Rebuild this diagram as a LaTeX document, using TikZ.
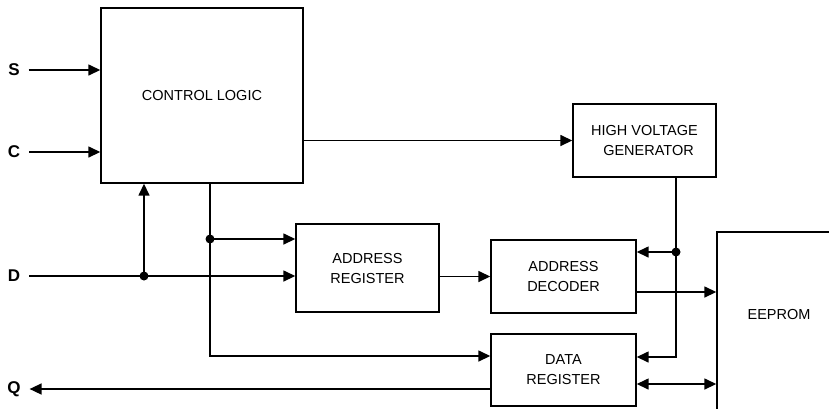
\documentclass[tikz,border=0pt]{standalone}
\usepackage{fontspec}
\setmainfont{Liberation Sans}
\usetikzlibrary{arrows.meta}

\tikzset{
  blk/.style={draw, line width=1.4pt, inner sep=0pt, align=center,
    font=\fontsize{14.5}{20}\selectfont},
  lbl/.style={font=\bfseries\fontsize{17}{17}\selectfont, inner sep=0pt, outer xsep=9pt},
  arr/.style={-{Triangle[length=12pt,width=11pt]}},
  arrs/.style={{Triangle[length=12pt,width=11pt]}-{Triangle[length=12pt,width=11pt]}}
}

\begin{document}
\begin{tikzpicture}[x=1pt, y=-1pt, line width=1.5pt]
  \useasboundingbox (0,0) rectangle (829,408);

  \node [blk, minimum width=202pt, minimum height=175pt] (ctrl) at (202,95.5) {CONTROL LOGIC};
  \node [blk, minimum width=143pt, minimum height=73pt] (hvg) at (644.5,140.5) {HIGH VOLTAGE\\ \ \ GENERATOR};
  \node [blk, minimum width=143pt, minimum height=88pt] (addrreg) at (367.5,268) {ADDRESS\\REGISTER};
  \node [blk, minimum width=145pt, minimum height=73pt] (addrdec) at (563.5,276.5) {ADDRESS\\DECODER};
  \node [blk, minimum width=145pt, minimum height=72pt] (datareg) at (563.5,370) {DATA\\REGISTER};
  \node [blk, minimum width=124pt, minimum height=188pt, label={[yshift=12pt, font=\fontsize{14.5}{20}\selectfont]center:EEPROM}] (eeprom) at (779,326) {};

  \node [lbl] (s) at (14,70) {S};
  \node [lbl] (c) at (14,152) {C};
  \node [lbl] (d) at (14,276) {D};
  \node [lbl] (q) at (14,389) {Q};

  \coordinate (dj) at (144,276);
  \coordinate (tap) at (210,239);
  \coordinate (hv) at (676,252);

  \draw [arr] (s.east) -- (s.east -| ctrl.west);
  \draw [arr] (c.east) -- (c.east -| ctrl.west);
  \draw [arr] (d.east) -- (d.east -| addrreg.west);
  \draw [arr] (dj) -- (dj |- ctrl.south);
  \draw [arr] (ctrl.south -| tap) |- (datareg.west |- 0,356);
  \draw [arr] (tap) -- (tap -| addrreg.west);
  \draw [arr] (ctrl.east |- hvg.west) -- (hvg.west);
  \draw [arr] (addrreg.east |- addrdec.west) -- (addrdec.west);
  \draw [arr] (hvg.south -| hv) |- (datareg.east |- 0,357);
  \draw [arr] (hv) -- (hv -| addrdec.east);
  \draw [arr] (addrdec.east |- 0,292) -- (eeprom.west |- 0,292);
  \draw [arrs] (datareg.east |- 0,384) -- (eeprom.west |- 0,384);
  \draw [arr] (datareg.west |- q) -- (q.east);

  \fill (dj) circle (4.5pt);
  \fill (tap) circle (4.5pt);
  \fill (hv) circle (4.5pt);
\end{tikzpicture}
\end{document}
